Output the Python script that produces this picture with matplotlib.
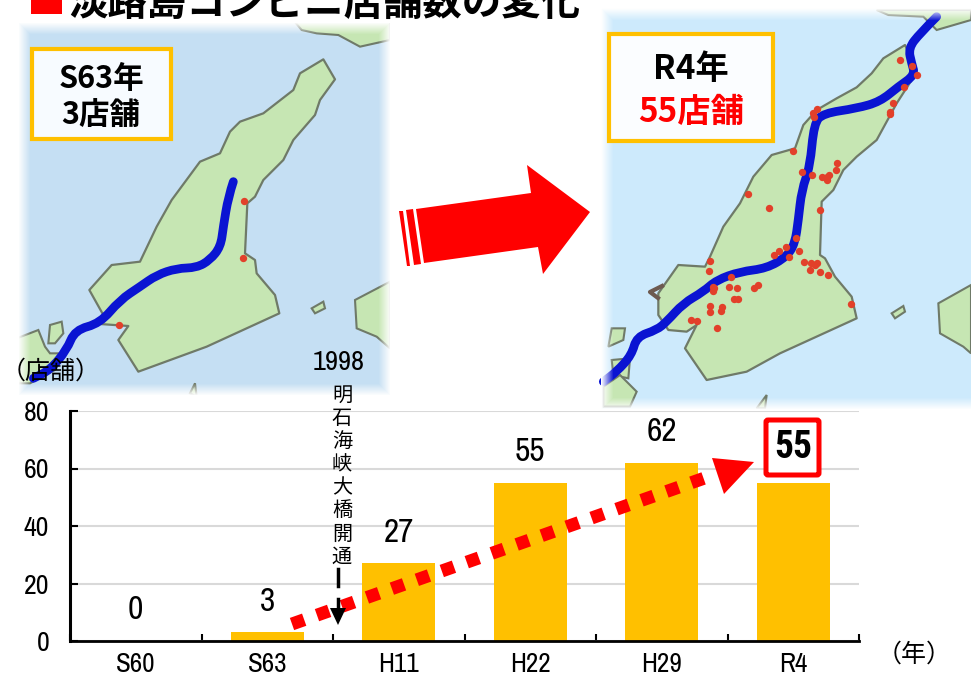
# Number of convenience stores on Awaji Island: two maps and a bar chart
import numpy as np
import matplotlib
matplotlib.use("Agg")
import matplotlib.pyplot as plt
from matplotlib.path import Path
from matplotlib.patches import Polygon, Rectangle, FancyBboxPatch, PathPatch

plt.rcParams['font.family'] = ['Noto Sans CJK JP', 'DejaVu Sans']
NARROW = ['Archivo Narrow', 'Roboto Condensed', 'Noto Sans CJK JP']
NARROW_BOLD = ['Roboto Condensed', 'Archivo Narrow', 'Noto Sans CJK JP']

years = ["S60", "S63", "H11", "H22", "H29", "R4"]
stores = [0, 3, 27, 55, 62, 55]
y_ticks = [0, 20, 40, 60, 80]

# map geometry, in 3x pixels of each map's frame
island_a = [(970,178),(900,220),(880,270),(790,340),(720,365),(690,395),(660,460),(600,485),(515,600),
            (470,680),(420,785),(335,795),(268,870),(310,945),(300,972),(385,978),(355,1020),(415,1115),
            (620,1040),(838,940),(825,885),(770,820),(765,780),(735,760),(742,610),(765,590),(790,540),
            (850,480),(880,420),(945,345),(960,300),(1005,238)]
road_a = [(700,545),(685,590),(670,680),(662,740),(630,780),(590,803),(530,805),(470,825),(420,860),
          (360,900),(300,970),(225,990),(200,1050),(150,1110),(100,1135)]
dots_a = [(731,602),(729,775),(358,975)]
land_a = [[(880,60),(905,90),(950,100),(1015,105),(1080,140),(1170,120),(1170,60)],
          [(1170,845),(1065,900),(1070,985),(1130,1010),(1170,1045)],
          [(935,925),(970,905),(975,925),(945,940)],
          [(50,1015),(115,990),(135,1040),(150,1060),(190,1060),(165,1110),(90,1150),(50,1150)],
          [(145,1030),(150,975),(185,965),(190,1000),(165,1030)],
          [(570,1180),(585,1150),(590,1190)]]

island_b = [(945,135),(880,175),(845,220),(800,262),(740,295),(680,330),(640,375),(615,445),(545,465),
            (490,530),(450,610),(400,680),(360,770),(345,800),(265,795),(205,880),(205,945),(235,990),
            (290,995),(320,975),(285,1045),(350,1140),(470,1115),(570,1060),(800,955),(785,890),(735,830),
            (705,775),(690,765),(695,605),(730,570),(760,510),(800,470),(860,420),(920,310),(965,240),(980,210)]
road_b = [(1040,50),(990,100),(955,145),(965,190),(975,225),(925,260),(870,305),(800,325),(700,340),
          (672,370),(660,500),(635,570),(625,660),(615,730),(590,770),(530,805),(450,815),(380,840),
          (340,875),(280,910),(230,965),(200,990),(140,1010),(125,1065),(80,1115),(40,1145)]
dots_b = [(930,180),(967,198),(982,224),(941,262),(908,310),(900,343),(900,335),(668,338),(682,326),(672,350),
          (610,452),(741,488),(738,510),(637,516),(665,526),(697,530),(718,526),(710,540),(710,530),(473,582),
          (537,625),(690,630),(618,714),(587,740),(568,752),(553,766),(628,752),(597,770),(360,784),(356,812),
          (641,787),(662,788),(680,788),(676,795),(661,811),(689,815),(714,826),(422,832),(368,860),(368,872),
          (372,865),(418,860),(440,865),(505,856),(492,865),(444,896),(433,898),(782,912),(361,917),(361,935),
          (397,920),(394,933),(303,959),(320,962),(380,983)]
land_b = [[(860,30),(895,45),(1000,50),(1040,90),(1143,60),(1143,30)],
          [(1143,855),(1045,910),(1050,1000),(1120,1040),(1143,1060)],
          [(905,940),(940,918),(945,935),(915,955)],
          [(55,1040),(65,985),(105,985),(100,1020)],
          [(65,1080),(120,1075),(115,1135),(70,1125)],
          [(40,1160),(90,1125),(140,1175),(120,1220),(40,1220)],
          [(500,1225),(530,1185),(525,1225)]]

fig = plt.figure(figsize=(9.71, 6.78), dpi=100)

ax_map = fig.add_axes([0, 0, 1, 1], zorder=0)
ax_map.set_xlim(0, 971)
ax_map.set_ylim(678, 0)
ax_map.axis("off")


def to_px(points, ox, oy):
    return [(x / 3 + ox, y / 3 + oy) for x, y in points]


def road_path(points):
    # quadratic curve through the midpoints, so the road has no corners
    verts = [points[0]]
    codes = [Path.MOVETO]
    for a, b in zip(points[1:-1], points[2:]):
        verts += [a, ((a[0] + b[0]) / 2, (a[1] + b[1]) / 2)]
        codes += [Path.CURVE3, Path.CURVE3]
    verts.append(points[-1])
    codes.append(Path.LINETO)
    return Path(verts, codes)


def draw_map(box, sea, land, island, road, dots, others, ox, oy):
    x0, x1, y0, y1 = box
    clip = Rectangle((x0, y0), x1 - x0, y1 - y0, transform=ax_map.transData)
    ax_map.add_patch(Rectangle((x0, y0), x1 - x0, y1 - y0, fc=sea, ec="none", zorder=1))
    for piece in others:
        p = Polygon(to_px(piece, ox, oy), fc=land, ec="#6f7a68", lw=1.5, zorder=2)
        ax_map.add_patch(p)
        p.set_clip_path(clip)
    ax_map.add_patch(Polygon(to_px(island, ox, oy), fc=land, ec="#6f7a68", lw=1.6, joinstyle="round", zorder=3))
    ax_map.add_patch(PathPatch(road_path(to_px(road, ox, oy)), fc="none", ec="#0a14d2", lw=6.3,
                               capstyle="round", joinstyle="round", zorder=4))
    dx, dy = zip(*to_px(dots, ox, oy))
    ax_map.scatter(dx, dy, s=28, color="#e2402a", linewidths=0, zorder=5)

    # white fade over the edges of the map
    h, w = int(y1 - y0), int(x1 - x0)
    yy, xx = np.mgrid[0:h, 0:w]
    edge = np.minimum.reduce([xx, w - 1 - xx, yy, h - 1 - yy]) / 12
    fade = np.ones((h, w, 4))
    fade[..., 3] = 1 - np.clip(edge, 0, 1)
    ax_map.imshow(fade, extent=(x0, x1, y1, y0), aspect="auto", zorder=6)
    ax_map.set_xlim(0, 971)
    ax_map.set_ylim(678, 0)


draw_map((18, 391, 22, 396), "#c5dff3", "#c6e6b3", island_a, road_a, dots_a, land_a, 0, 0)
draw_map((601, 985, 8, 410), "#cdeafc", "#c6e6b3", island_b, road_b, dots_b, land_b, 590, 0)
ax_map.plot([662, 650, 658], [286, 292, 298], color="#6d5a50", lw=3, zorder=7)

# title
ax_map.add_patch(Rectangle((31, -5), 31, 19, fc="#ff0000", ec="none", zorder=8))
ax_map.text(68, 14.5, "淡路島コンビニ店舗数の変化", fontsize=28.4, fontweight="bold", color="black",
            ha="left", va="baseline", zorder=8)

# year boxes on the maps
ax_map.add_patch(Rectangle((32, 49), 139, 90, fc="#f7fbff", ec="#ffc000", lw=3, zorder=8))
ax_map.text(101, 79, "S63年", fontsize=22, fontweight="bold", ha="center", va="center", zorder=9)
ax_map.text(101, 116, "3店舗", fontsize=22, fontweight="bold", ha="center", va="center", zorder=9)
ax_map.add_patch(Rectangle((609, 34), 164, 107, fc="#fbfdff", ec="#ffc000", lw=3, zorder=8))
ax_map.text(691, 69, "R4年", fontsize=24, fontweight="bold", ha="center", va="center", zorder=9)
ax_map.text(691, 112, "55店舗", fontsize=24, fontweight="bold", color="#ff0000", ha="center", va="center", zorder=9)

# big arrow between the maps
ax_map.add_patch(Polygon([(416,209),(531,193),(527,165),(590,212),(543,274),(538,247),(424,263)],
                         fc="#ff0000", ec="none", zorder=8))
ax_map.add_patch(Polygon([(406,210),(413,209),(421,264),(414,265)], fc="#ff0000", ec="none", zorder=8))
ax_map.add_patch(Polygon([(399,211),(403,211),(410,266),(407,266)], fc="#ff0000", ec="none", zorder=8))

# bar chart
ax = fig.add_axes([70 / 971, 1 - 641 / 678, 789 / 971, 230 / 678], zorder=1)
ax.patch.set_visible(False)
positions = np.arange(len(years)) + 0.5
ax.bar(positions, stores, width=0.555, color="#ffc000", zorder=2)
ax.set_xlim(0, len(years))
ax.set_ylim(0, 80)
ax.set_yticks(y_ticks)
ax.set_xticks(np.arange(len(years) + 1))
ax.set_xticklabels([])
ax.set_xticks(positions, minor=True)
ax.set_xticklabels(years, minor=True, family=NARROW, fontsize=19.5)
ax.tick_params(axis="x", which="minor", length=0, pad=8)
ax.tick_params(axis="x", which="major", direction="in", length=5, width=1.5)
ax.tick_params(axis="y", direction="in", length=6, width=1.5, pad=15)
for label in ax.get_yticklabels():
    label.set_family(NARROW)
    label.set_fontsize(20)
ax.grid(axis="y", color="#d9d9d9", lw=1.5, zorder=0)
for side in ["top", "right"]:
    ax.spines[side].set_visible(False)
ax.spines["left"].set_linewidth(2.2)
ax.spines["bottom"].set_linewidth(2)

for x, v in zip(positions[:-1], stores[:-1]):
    ax.annotate(str(v), (x, v), xytext=(0, 22), textcoords="offset points",
                ha="center", va="center", family=NARROW, fontsize=24)

# annotations on top of the chart
ax_top = fig.add_axes([0, 0, 1, 1], zorder=2)
ax_top.set_xlim(0, 971)
ax_top.set_ylim(678, 0)
ax_top.axis("off")

ax_top.text(50.5, 372, "（店舗）", fontsize=18, ha="center", va="center")
ax_top.text(914, 655, "（年）", fontsize=18, ha="center", va="center")
ax_top.text(339, 362, "1998", family=NARROW, fontsize=20.5, ha="center", va="center")
for i, ch in enumerate("明石海峡大橋開通"):
    ax_top.text(342, 395 + i * 23.2, ch, fontsize=14.5, ha="center", va="center")

# red dotted arrow across the bars
ax_top.plot([292, 716], [624, 474], color="#ff0000", lw=9.3, dashes=(1.0, 1.05), dash_capstyle="butt", zorder=3)
ax_top.add_patch(Polygon([(712,458),(754,462),(724,494)], fc="#ff0000", ec="none", zorder=3))

# opening of the bridge: black dashed arrow
ax_top.plot([338, 338], [569, 586], color="black", lw=2.5, zorder=4)
ax_top.plot([338, 338], [599, 612], color="black", lw=2.5, zorder=4)
ax_top.add_patch(Polygon([(330,608),(346,608),(338,625)], fc="black", ec="none", zorder=4))

# boxed value for the last year
ax_top.add_patch(FancyBboxPatch((766, 420), 53, 55, boxstyle="round,pad=0,rounding_size=2",
                                fc="white", ec="#ff0000", lw=3.6, zorder=5))
ax_top.text(793, 447, str(stores[-1]), family=NARROW_BOLD, fontsize=27, fontweight="bold",
            ha="center", va="center", zorder=6)

fig.savefig("out.png", dpi=100)
